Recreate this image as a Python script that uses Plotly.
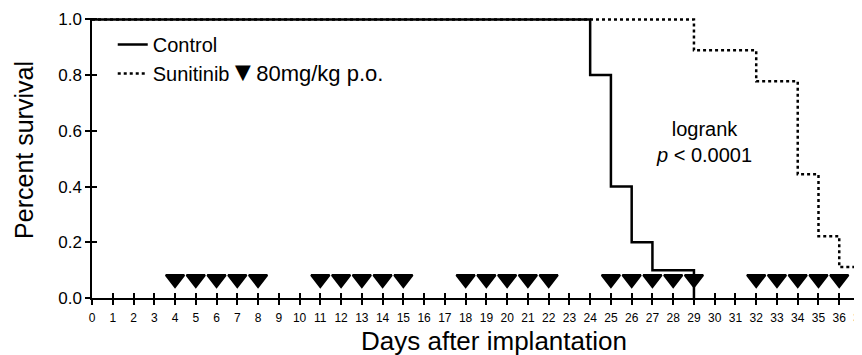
import plotly.graph_objects as go

# Data
control_days = [0, 24, 25, 26, 27, 29]
control_surv = [1.0, 0.8, 0.4, 0.2, 0.1, 0.0]
sunitinib_days = [0, 29, 32, 34, 35, 36, 37]
sunitinib_surv = [1.0, 0.889, 0.778, 0.444, 0.222, 0.111, 0.0]
dose_days = [4, 5, 6, 7, 8, 11, 12, 13, 14, 15, 18, 19, 20, 21, 22,
             25, 26, 27, 28, 29, 32, 33, 34, 35, 36]
dose_level = [0.068] * len(dose_days)
x_ticks = list(range(0, 38))
y_ticks = [0.0, 0.2, 0.4, 0.6, 0.8, 1.0]

FONT = "Liberation Sans, Arial, sans-serif"

fig = go.Figure()
fig.add_trace(go.Scatter(
    x=control_days, y=control_surv, mode="lines", line_shape="hv",
    line=dict(color="black", width=2.5), name="Control"))
fig.add_trace(go.Scatter(
    x=sunitinib_days, y=sunitinib_surv, mode="lines", line_shape="hv",
    line=dict(color="black", width=2.5, dash="dot"),
    name=("Sunitinib<span style='font-size:27px'>▼</span>"
          "<span style='font-size:22px'>80mg/kg p.o.</span>")))
fig.add_trace(go.Scatter(
    x=dose_days, y=dose_level, mode="markers", showlegend=False,
    marker=dict(symbol="triangle-down", size=16, color="black",
                line=dict(color="black", width=2))))
# invisible helper trace to create the overlay axes for inside ticks
fig.add_trace(go.Scatter(x=[0], y=[0], xaxis="x2", yaxis="y2", mode="none",
                         showlegend=False, hoverinfo="skip"))

fig.add_annotation(x=29.5, y=0.56, xref="x", yref="y",
                   text="logrank<br><i>p</i> &lt; 0.0001", showarrow=False,
                   font=dict(size=20, color="black", family=FONT), align="center")
# axis titles (placed like the reference, slightly off-centre)
fig.add_annotation(x=0.523, y=-0.155, xref="paper", yref="paper",
                   text="Days after implantation", showarrow=False,
                   xanchor="center", yanchor="middle",
                   font=dict(size=26, color="black", family=FONT))
fig.add_annotation(x=-0.0885, y=0.529, xref="paper", yref="paper",
                   text="Percent survival", showarrow=False, textangle=-90,
                   xanchor="center", yanchor="middle",
                   font=dict(size=25, color="black", family=FONT))

axis_common = dict(showgrid=False, zeroline=False, linecolor="black", linewidth=1.5,
                   tickcolor="black", tickwidth=1.5, automargin=False)

# page body has an 8px default margin, so the figure is sized to fit the window
fig.update_layout(
    width=854, height=347,
    margin=dict(l=84, r=2, t=10, b=57),
    paper_bgcolor="white", plot_bgcolor="white",
    font=dict(family=FONT, color="black"),
    showlegend=True,
    legend=dict(x=0.027, y=0.975, xanchor="left", yanchor="top",
                bgcolor="rgba(0,0,0,0)", font=dict(size=20, family=FONT),
                tracegroupgap=0),
    xaxis=dict(range=[0, 37], tickmode="array", tickvals=x_ticks,
               ticktext=[str(v) for v in x_ticks], ticks="outside", ticklen=5,
               tickfont=dict(size=12), showline=True, ticklabelstandoff=3,
               ticklabeloverflow="allow",
               **axis_common),
    yaxis=dict(range=[0, 1.005], tickmode="array", tickvals=y_ticks,
               ticktext=["%.1f" % v for v in y_ticks], ticks="outside", ticklen=5,
               tickfont=dict(size=17), showline=True,
               **axis_common),
    xaxis2=dict(overlaying="x", anchor="y2", matches="x", range=[0, 37],
                tickmode="array", tickvals=x_ticks, ticks="inside", ticklen=5,
                showticklabels=False, showline=False, showgrid=False, zeroline=False,
                tickcolor="black", tickwidth=1.5, side="bottom", automargin=False),
    yaxis2=dict(overlaying="y", anchor="x2", range=[0, 1.005],
                tickmode="array", tickvals=y_ticks, ticks="inside", ticklen=5,
                showticklabels=False, showline=False, showgrid=False, zeroline=False,
                tickcolor="black", tickwidth=1.5, side="left", automargin=False),
)

fig.write_html("out.html")
